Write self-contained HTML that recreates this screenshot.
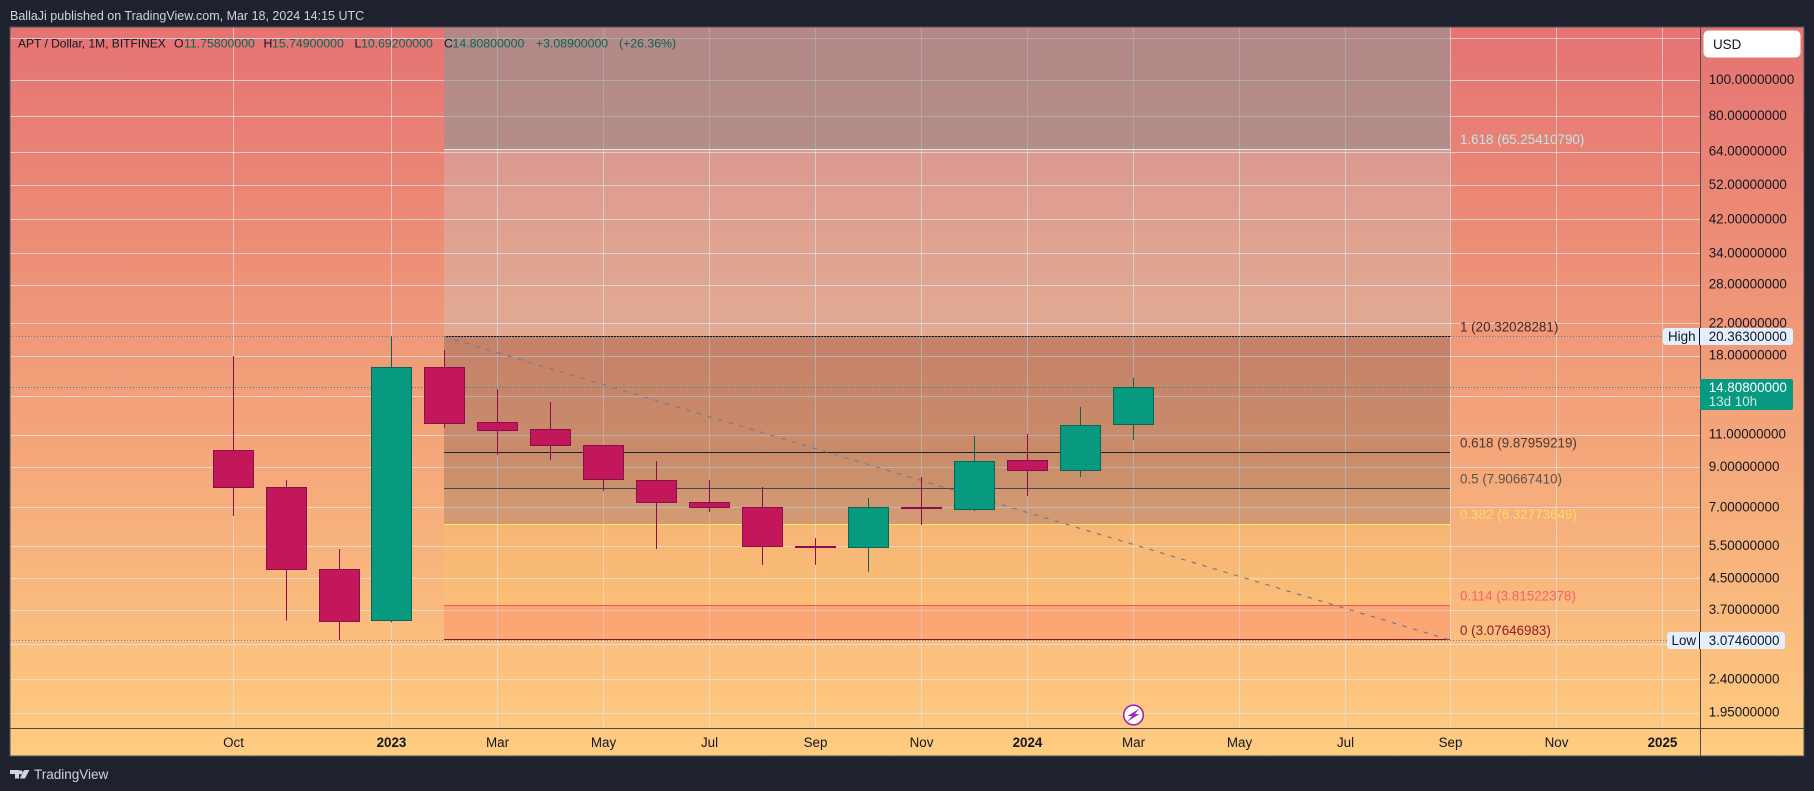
<!DOCTYPE html>
<html lang="en">
<head>
<meta charset="utf-8">
<title>APT / Dollar monthly chart</title>
<style>
html,body{margin:0;padding:0;background:#1e222d;width:1814px;height:791px;overflow:hidden}
svg{display:block;position:absolute;left:0;top:0;font-family:"Liberation Sans",Arial,sans-serif}
text{white-space:pre}
</style>
</head>
<body>
<svg id="chart" xmlns="http://www.w3.org/2000/svg" width="1814" height="791" viewBox="0 0 1814 791">
  <defs>
    <linearGradient id="bgGrad" gradientUnits="userSpaceOnUse" x1="0" y1="27" x2="0" y2="756">
      <stop offset="0" stop-color="#e57373"/>
      <stop offset="1" stop-color="#ffcc80"/>
    </linearGradient>
  </defs>
  <rect x="0" y="0" width="1814" height="791" fill="#1e222d"/>
  <text x="10" y="20" font-size="12.5" fill="#d1d4dc">BallaJi published on TradingView.com, Mar 18, 2024 14:15 UTC</text>
  <rect x="10" y="27" width="1794" height="729" fill="url(#bgGrad)"/>
  <g id="gridLayer"></g>
  <g id="fibLayer"></g>
  <g id="priceLineLayer"></g>
  <g id="candleLayer"></g>
  <g id="axisLayer">
    <line x1="1700.5" y1="27" x2="1700.5" y2="756" stroke="#4a4a50" stroke-width="1"/>
    <line x1="10" y1="728.5" x2="1804" y2="728.5" stroke="#4a4a50" stroke-width="1"/>
    <rect x="10" y="27" width="1794" height="729" fill="none" stroke="#50525c" stroke-width="1"/>
  </g>
  <g id="priceLabelLayer"></g>
  <g id="timeLabelLayer"></g>
  <g id="tagLayer">
    <rect x="1663" y="328" width="130" height="17" rx="3" fill="#e3effd"/>
    <line x1="1699.5" y1="328" x2="1699.5" y2="345" stroke="#131722" stroke-width="1"/>
    <text x="1668" y="341" font-size="13.4" fill="#131722">High</text>
    <text x="1708.7" y="341" font-size="13.4" fill="#131722">20.36300000</text>
    <rect x="1667" y="632" width="118" height="17" rx="3" fill="#e3effd"/>
    <line x1="1699.5" y1="632" x2="1699.5" y2="649" stroke="#131722" stroke-width="1"/>
    <text x="1671.5" y="645" font-size="13.4" fill="#131722">Low</text>
    <text x="1708.7" y="645" font-size="13.4" fill="#131722">3.07460000</text>
    <path d="M1700 379H1791a2 2 0 0 1 2 2V408a2 2 0 0 1 -2 2H1700Z" fill="#089981"/>
    <text x="1708.7" y="392" font-size="13.4" fill="#ffffff">14.80800000</text>
    <text x="1708.7" y="406" font-size="13.4" fill="#c6ece4">13d 10h</text>
  </g>
  <g>
    <rect x="1703.5" y="30.5" width="97" height="27" rx="5" fill="#ffffff"/>
    <text x="1713" y="49" font-size="13.4" fill="#131722">USD</text>
  </g>
  <g font-size="12.3">
    <text x="18" y="47.5" font-size="12" fill="#131722">APT / Dollar, 1M, BITFINEX</text>
    <text x="174" y="47.5" fill="#131722">O</text>
    <text x="184" y="47.5" fill="#056656">11.75800000</text>
    <text x="263.5" y="47.5" fill="#131722">H</text>
    <text x="272" y="47.5" fill="#056656">15.74900000</text>
    <text x="354.5" y="47.5" fill="#131722">L</text>
    <text x="361" y="47.5" fill="#056656">10.69200000</text>
    <text x="444" y="47.5" fill="#131722">C</text>
    <text x="452.5" y="47.5" fill="#056656">14.80800000</text>
    <text x="536" y="47.5" fill="#056656">+3.08900000</text>
    <text x="619" y="47.5" fill="#056656">(+26.36%)</text>
  </g>
  <g>
    <circle cx="1133.5" cy="715" r="9.8" fill="#ffffff" stroke="#9c27b0" stroke-width="1.6"/>
    <path d="M1139.5 708.5L1127.5 716H1132L1127.5 721.5L1139.5 714H1135Z" fill="#9c27b0"/>
  </g>
  <g>
    <path d="M10 770H19V778.5H15V774H10ZM20.5 770.2A2.1 2.1 0 1 1 20.5 774.4A2.1 2.1 0 1 1 20.5 770.2ZM24 770H29.5L25 778.5H19.8Z" fill="#d1d4dc"/>
    <text x="34" y="779" font-size="13.5" fill="#d1d4dc">TradingView</text>
  </g>
</svg>
<script>
// ---- chart data ----
const candleMonths = ['2022-10','2022-11','2022-12','2023-01','2023-02','2023-03','2023-04','2023-05','2023-06','2023-07','2023-08','2023-09','2023-10','2023-11','2023-12','2024-01','2024-02','2024-03'];
const openValues  = [10.01, 7.95, 4.77, 3.47, 16.79, 11.92, 11.41, 10.34, 8.31, 7.25, 7.02, 5.50, 5.46, 7.02, 6.92, 9.41, 8.82, 11.758];
const highValues  = [18.01, 8.32, 5.42, 20.363, 18.69, 14.64, 13.53, 10.34, 9.37, 8.32, 7.97, 5.80, 7.44, 8.48, 10.95, 11.08, 13.11, 15.749];
const lowValues   = [6.66, 3.47, 3.0746, 3.43, 11.53, 9.73, 9.43, 7.77, 5.42, 6.82, 4.91, 4.91, 4.70, 6.29, 6.86, 7.53, 8.48, 10.692];
const closeValues = [7.93, 4.77, 3.45, 16.79, 11.82, 11.31, 10.31, 8.34, 7.23, 7.00, 5.50, 5.47, 7.02, 7.00, 9.35, 8.82, 11.70, 14.808];

const priceGridValues = [130, 100, 80, 64, 52, 42, 34, 28, 22, 18, 14, 11, 9, 7, 5.5, 4.5, 3.7, 3, 2.4, 1.95];
const priceTickLabels = ['100.00000000','80.00000000','64.00000000','52.00000000','42.00000000','34.00000000','28.00000000','22.00000000','18.00000000','11.00000000','9.00000000','7.00000000','5.50000000','4.50000000','3.70000000','2.40000000','1.95000000'];

const timeTickIndexes = [0, 3, 5, 7, 9, 11, 13, 15, 17, 19, 21, 23, 25, 27];
const timeTickLabels  = ['Oct','2023','Mar','May','Jul','Sep','Nov','2024','Mar','May','Jul','Sep','Nov','2025'];
const timeTickBold    = [false, true, false, false, false, false, false, true, false, false, false, false, false, true];

const fibPrices = [65.25410790, 20.32028281, 9.87959219, 7.90667410, 6.32773649, 3.81522378, 3.07646983];
const fibLabels = ['1.618 (65.25410790)','1 (20.32028281)','0.618 (9.87959219)','0.5 (7.90667410)','0.382 (6.32773649)','0.114 (3.81522378)','0 (3.07646983)'];
const fibColors = ['#d9f0f2','#131722','#1e222d','#434651','#ffe76a','#f7525f','#801922'];
const fibLabelColors = ['#bfe6ea','#3a2a25','#4a3a30','#5d5450','#ffd966','#f9616b','#8c2027'];
const fibFills = ['rgba(178,235,242,.22)','rgba(30,34,45,.2)','rgba(30,34,45,.2)','rgba(67,70,81,.2)','rgba(255,235,59,.1)','rgba(255,82,82,.2)'];
const fibTopFill = 'rgba(145,150,148,.6)';
const fibStartIndex = 4;
const fibEndIndex = 23;
const highPrice = 20.363;
const lowPrice = 3.0746;
const lastPrice = 14.808;

// ---- axis functions ----
function xAt(i){ return Math.floor(233.12 + 52.95 * i) + 0.5; }
function yAt(v){ return 80.5 + 160.7 * Math.log(100 / v); }
function pixel(y){ return Math.round(y - 0.5) + 0.5; }

const NS = 'http://www.w3.org/2000/svg';
function make(tag, parentId, attrs){
  const n = document.createElementNS(NS, tag);
  for (const k in attrs) n.setAttribute(k, attrs[k]);
  document.getElementById(parentId).appendChild(n);
  return n;
}
const plotLeft = 10, plotRight = 1700, plotTop = 27, plotBottom = 728;

// grid
priceGridValues.forEach(function(v){
  const line = make('line', 'gridLayer', {x1: plotLeft, x2: plotRight, y1: pixel(yAt(v)), y2: pixel(yAt(v)), stroke: 'rgba(222,232,240,.72)', 'stroke-width': 1});
  
  
});
timeTickIndexes.forEach(function(i){
  const line = make('line', 'gridLayer', {x1: xAt(i), x2: xAt(i), y1: plotTop, y2: plotBottom, stroke: 'rgba(222,232,240,.6)', 'stroke-width': 1});
  
  
});

// fib extension
const fibX0 = xAt(fibStartIndex) - 0.5;
const fibX1 = xAt(fibEndIndex) - 0.5;
const topBand = make('rect', 'fibLayer', {x: fibX0, y: plotTop, width: fibX1 - fibX0, height: yAt(fibPrices[0]) - plotTop, fill: fibTopFill});


fibFills.forEach(function(fill, k){
  const y0 = yAt(fibPrices[k]), y1 = yAt(fibPrices[k + 1]);
  const band = make('rect', 'fibLayer', {x: fibX0, y: y0, width: fibX1 - fibX0, height: y1 - y0, fill: fill});
  
  
});
fibPrices.forEach(function(p, k){
  const line = make('line', 'fibLayer', {x1: fibX0, x2: fibX1, y1: pixel(yAt(p)), y2: pixel(yAt(p)), stroke: fibColors[k], 'stroke-width': 1});
  
  
  const label = make('text', 'fibLayer', {x: 1460, y: yAt(p) - 5, 'font-size': 13.4, fill: fibLabelColors[k]});
  
  
  label.textContent = fibLabels[k];
});
const trend = make('line', 'fibLayer', {x1: fibX0, y1: yAt(fibPrices[1]), x2: fibX1, y2: yAt(fibPrices[6]), stroke: '#787b86', 'stroke-width': 1.2, 'stroke-dasharray': '4.5 6.5'});



// price lines
const highLine = make('line', 'priceLineLayer', {x1: plotLeft, x2: 1663, y1: pixel(yAt(highPrice)), y2: pixel(yAt(highPrice)), stroke: '#5d7ea5', 'stroke-width': 1, 'stroke-dasharray': '1 2'});


const lowLine = make('line', 'priceLineLayer', {x1: plotLeft, x2: 1667, y1: pixel(yAt(lowPrice)), y2: pixel(yAt(lowPrice)), stroke: '#5d7ea5', 'stroke-width': 1, 'stroke-dasharray': '1 2'});


const lastLine = make('line', 'priceLineLayer', {x1: plotLeft, x2: 1700, y1: pixel(yAt(lastPrice)), y2: pixel(yAt(lastPrice)), stroke: '#089981', 'stroke-width': 1, 'stroke-dasharray': '1 2'});



// candles
candleMonths.forEach(function(month, i){
  const o = openValues[i], h = highValues[i], l = lowValues[i], c = closeValues[i];
  const up = c >= o;
  const fill = up ? '#089981' : '#c2185b';
  const edge = up ? '#056656' : '#880e4f';
  const x = xAt(i);
  const wick = make('line', 'candleLayer', {x1: x, x2: x, y1: yAt(h), y2: yAt(l), stroke: edge, 'stroke-width': 1});
  
  
  const top = pixel(yAt(Math.max(o, c)));
  const bottom = pixel(yAt(Math.min(o, c)));
  const body = make('rect', 'candleLayer', {x: x - 20, y: top, width: 40, height: Math.max(bottom - top, 1), fill: fill, stroke: edge, 'stroke-width': 1});
  
  
});

// price axis labels
priceTickLabels.forEach(function(txt){
  const t = make('text', 'priceLabelLayer', {x: 1708.7, y: yAt(parseFloat(txt)) + 3.5, 'font-size': 13.4, fill: '#131722'});
  
  
  t.textContent = txt;
});

// time axis labels
timeTickLabels.forEach(function(txt, k){
  const t = make('text', 'timeLabelLayer', {x: xAt(timeTickIndexes[k]), y: 747, 'font-size': 13.4, 'text-anchor': 'middle', fill: '#131722', 'font-weight': timeTickBold[k] ? 'bold' : 'normal'});
  
  
  t.textContent = txt;
});
</script>
</body>
</html>
